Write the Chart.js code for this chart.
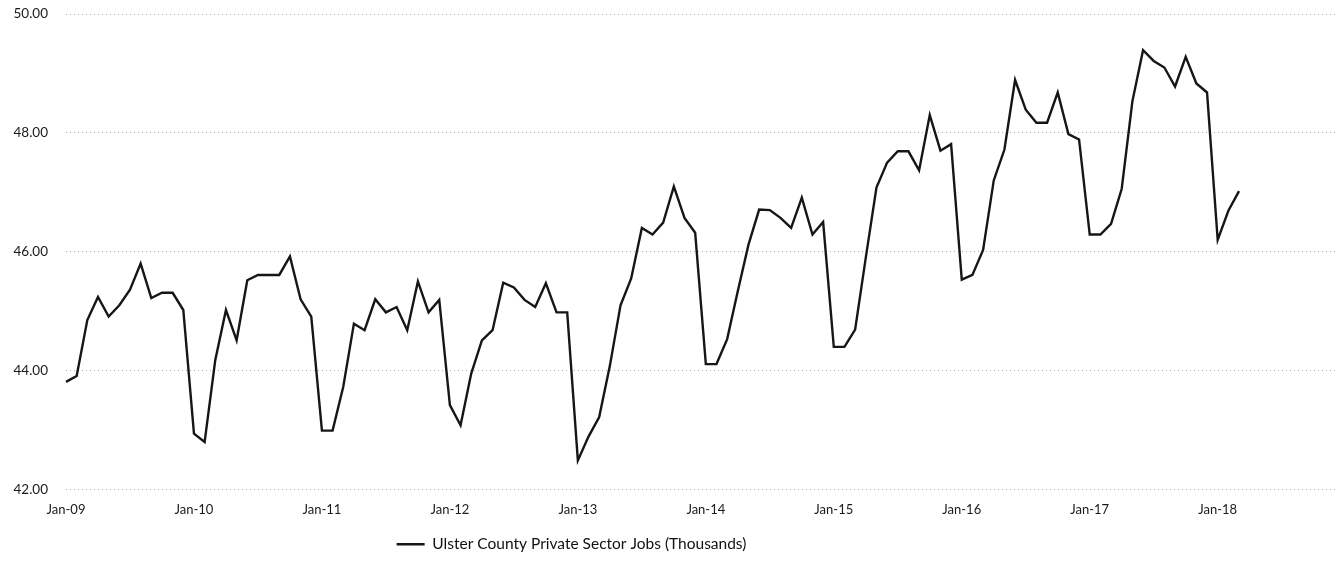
<!DOCTYPE html>
<html>
<head>
<meta charset="utf-8">
<script src="https://cdn.jsdelivr.net/npm/chart.js@4/dist/chart.umd.min.js"></script>
<style>
  html, body { margin: 0; padding: 0; background: #fff; }
  #wrap { width: 1342px; height: 566px; position: relative; }
</style>
</head>
<body>
<div id="wrap"><canvas id="jobs"></canvas></div>
<script>
// monthly values, thousands of jobs
const y2009 = [43.81, 43.91, 44.85, 45.24, 44.91, 45.10, 45.36, 45.80, 45.22, 45.31, 45.31, 45.02];
const y2010 = [42.94, 42.80, 44.18, 45.02, 44.51, 45.52, 45.61, 45.61, 45.61, 45.92, 45.20, 44.91];
const y2011 = [42.99, 42.99, 43.73, 44.79, 44.68, 45.20, 44.98, 45.07, 44.68, 45.50, 44.98, 45.19];
const y2012 = [43.42, 43.08, 43.95, 44.51, 44.68, 45.48, 45.40, 45.19, 45.07, 45.47, 44.98, 44.98];
const y2013 = [42.49, 42.89, 43.22, 44.08, 45.10, 45.55, 46.40, 46.29, 46.49, 47.10, 46.57, 46.32];
const y2014 = [44.11, 44.11, 44.53, 45.34, 46.12, 46.71, 46.70, 46.57, 46.40, 46.91, 46.29, 46.50];
const y2015 = [44.40, 44.40, 44.69, 45.90, 47.08, 47.50, 47.69, 47.69, 47.37, 48.30, 47.70, 47.81];
const y2016 = [45.53, 45.61, 46.03, 47.20, 47.72, 48.89, 48.39, 48.17, 48.17, 48.68, 47.98, 47.89];
const y2017 = [46.29, 46.29, 46.47, 47.06, 48.53, 49.39, 49.21, 49.10, 48.78, 49.28, 48.83, 48.68];
const y2018 = [46.20, 46.69, 47.02];

const monthNames = ['Jan', 'Feb', 'Mar', 'Apr', 'May', 'Jun', 'Jul', 'Aug', 'Sep', 'Oct', 'Nov', 'Dec'];
const years = ['09', '10', '11', '12', '13', '14', '15', '16', '17', '18'];
const yTicks = [42, 44, 46, 48, 50];

const seriesName = 'Ulster County Private Sector Jobs (Thousands)';

// category axis runs Jan-09 .. Dec-18, data stops in Mar-18
const labels = [];
years.forEach(yr => monthNames.forEach(m => labels.push(m + '-' + yr)));

const jobs = [].concat(y2009, y2010, y2011, y2012, y2013, y2014, y2015, y2016, y2017, y2018);

const lineColor = '#161616';

// the legend in the original sits left of centre
const legendShift = {
    id: 'legendShift',
    afterLayout(chart) {
        const lg = chart.legend;
        if (!lg) return;
        lg.left -= 96;
        lg.right -= 96;
    }
};

new Chart(document.getElementById('jobs'), {
    type: 'line',
    data: {
        labels: labels,
        datasets: [{
            label: seriesName,
            data: jobs,
            borderColor: lineColor,
            backgroundColor: lineColor,
            borderWidth: 2.4,
            pointRadius: 0,
            tension: 0
        }]
    },
    plugins: [legendShift],
    options: {
        responsive: true,
        maintainAspectRatio: false,
        animation: false,
        layout: {
            padding: { top: 14, right: 7, bottom: 4, left: 0 }
        },
        plugins: {
            legend: {
                position: 'bottom',
                labels: {
                    usePointStyle: true,
                    pointStyle: 'line',
                    pointStyleWidth: 28,
                    padding: 10,
                    color: '#111',
                    font: { family: 'Lato', size: 15.5 }
                }
            },
            tooltip: { enabled: false }
        },
        scales: {
            x: {
                offset: false,
                grid: { display: false, drawTicks: false },
                border: { display: false },
                ticks: {
                    autoSkip: false,
                    maxRotation: 0,
                    padding: 13,
                    color: '#1a1a1a',
                    font: { family: 'Lato', size: 13 },
                    callback: function (val, idx) {
                        return idx % 12 === 0 ? labels[idx] : null;
                    }
                },
                afterFit: function (scale) { scale.height = 37; }
            },
            y: {
                min: 42,
                max: 50,
                // invisible tick marks keep the labels away from the plot
                grid: { color: '#b0b0b0', lineWidth: 1, drawTicks: true, tickLength: 18, tickColor: 'rgba(0,0,0,0)' },
                border: { display: false, dash: [1, 3] },
                ticks: {
                    stepSize: 2,
                    padding: 0,
                    color: '#1a1a1a',
                    font: { family: 'Lato', size: 13.5 },
                    callback: v => yTicks.includes(v) ? v.toFixed(2) : null
                },
                afterFit: function (scale) { scale.width = 66; }
            }
        }
    }
});
</script>
</body>
</html>
